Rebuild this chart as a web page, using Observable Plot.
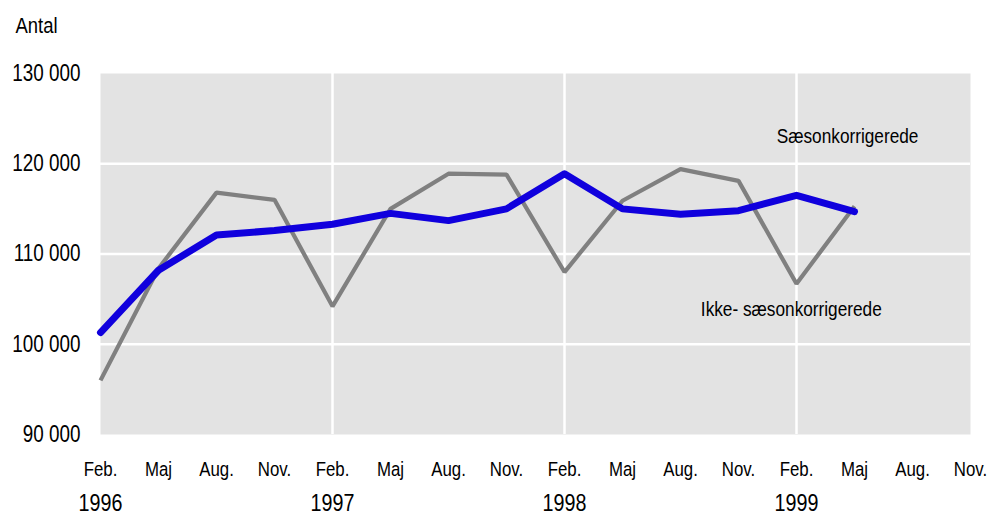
<!DOCTYPE html>
<html><head><meta charset="utf-8">
<script src="https://cdn.jsdelivr.net/npm/d3@7"></script>
<script src="https://cdn.jsdelivr.net/npm/@observablehq/plot@0.6"></script>
<style>
body{margin:0;background:#fff}
svg{font-family:"Liberation Sans",Arial,sans-serif}
</style>
</head><body><div id="chart"></div>
<script>
const months = ["Feb.","Maj","Aug.","Nov.","Feb.","Maj","Aug.","Nov.","Feb.","Maj","Aug.","Nov.","Feb.","Maj","Aug.","Nov."];
const years = ["1996","1997","1998","1999"];
const yearIndex = [0,4,8,12];
const saesonkorrigerede = [101300,108200,112100,112600,113300,114500,113700,115000,118900,115000,114400,114800,116500,114700];
const ikkeSaesonkorrigerede = [96000,108400,116800,116000,104200,115000,118900,118800,108000,115900,119400,118100,106700,115300];
const yTicks = [90000,100000,110000,120000,130000];
const labels = [
  {text:"Sæsonkorrigerede", i:12.88, v:122300},
  {text:"Ikke- sæsonkorrigerede", i:11.91, v:103170}
];

const sa = saesonkorrigerede.map((v,i)=>({i,v}));
const nsa = ikkeSaesonkorrigerede.map((v,i)=>({i,v}));
const fmt = d => d3.format(",")(d).replace(/,/g," ");

const chart = Plot.plot({
  width:990, height:515,
  marginTop:73, marginBottom:81, marginLeft:100, marginRight:20,
  x:{domain:[0,15], axis:null},
  y:{domain:[90000,130000], axis:null},
  marks:[
    Plot.frame({fill:"#e3e3e3", stroke:null}),
    Plot.ruleY(yTicks.slice(1,-1), {stroke:"#fff", strokeWidth:2.5}),
    Plot.ruleX(yearIndex.slice(1), {stroke:"#fff", strokeWidth:2.5}),
    Plot.line(nsa, {x:"i", y:"v", stroke:"#808080", strokeWidth:4.2, strokeLinejoin:"miter", strokeLinecap:"butt"}),
    Plot.line(sa, {x:"i", y:"v", stroke:"#1000dd", strokeWidth:7, strokeLinejoin:"round", strokeLinecap:"round"}),
    Plot.axisY(yTicks, {tickSize:0, tickPadding:20, tickFormat:fmt, fontSize:23, fill:"#000", label:null}),
    Plot.axisX(d3.range(16), {tickSize:0, tickPadding:27, tickFormat:i=>months[i], fontSize:20.5, fill:"#000", label:null}),
    Plot.axisX(yearIndex, {tickSize:0, tickPadding:59, tickFormat:i=>years[yearIndex.indexOf(i)], fontSize:24, fill:"#000", label:null}),
    Plot.text(["Antal"], {frameAnchor:"top-left", dx:-85, dy:-41, lineAnchor:"bottom", textAnchor:"start", fontSize:22.5, fill:"#000"}),
    Plot.text(labels, {x:"i", y:"v", text:"text", lineAnchor:"bottom", fontSize:21, fill:"#000"})
  ]
});
document.getElementById("chart").appendChild(chart);
// emulate a narrow (condensed) typeface
const squeeze = 0.82;
chart.querySelectorAll("text").forEach(t => {
  const spans = t.querySelectorAll("tspan");
  const els = spans.length ? Array.from(spans) : [t];
  els.forEach(el => {
    const w = el.getComputedTextLength();
    if (w > 0) {
      el.setAttribute("textLength", (w * squeeze).toFixed(2));
      el.setAttribute("lengthAdjust", "spacingAndGlyphs");
    }
  });
});
</script>
</body></html>
